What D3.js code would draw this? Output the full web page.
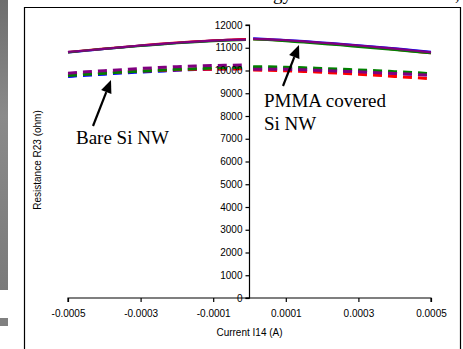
<!DOCTYPE html>
<html>
<head>
<meta charset="utf-8">
<script src="https://cdn.jsdelivr.net/npm/d3@7"></script>
<style>
  body { margin: 0; background: #fff; }
  svg { display: block; }
</style>
</head>
<body>
<svg id="chart"></svg>
<script>
// current values (A) for the two sweeps
var xLeft = [-0.0005, -0.00045, -0.0004, -0.00035, -0.0003, -0.00025, -0.0002, -0.00015, -0.0001, -0.00005, -0.00001];
var xRight = [0.00001, 0.00005, 0.0001, 0.00015, 0.0002, 0.00025, 0.0003, 0.00035, 0.0004, 0.00045, 0.0005];

// PMMA covered (solid)
var solidLeft = {
  blue:   [10790, 10870, 10950, 11020, 11090, 11150, 11210, 11260, 11310, 11350, 11380],
  red:    [10810, 10890, 10960, 11030, 11100, 11170, 11230, 11280, 11320, 11360, 11380],
  green:  [10800, 10880, 10950, 11020, 11080, 11140, 11200, 11250, 11290, 11320, 11340],
  purple: [10820, 10880, 10950, 11030, 11100, 11160, 11220, 11270, 11310, 11340, 11360]
};
var solidRight = {
  blue:   [11410, 11380, 11340, 11290, 11230, 11170, 11110, 11040, 10970, 10900, 10820],
  red:    [11380, 11360, 11310, 11260, 11200, 11140, 11070, 11000, 10920, 10840, 10760],
  green:  [11370, 11340, 11290, 11230, 11170, 11110, 11040, 10970, 10900, 10830, 10760],
  purple: [11390, 11370, 11330, 11280, 11220, 11160, 11100, 11030, 10960, 10880, 10800]
};

// Bare Si NW (dashed)
var dashLeft = {
  blue:   [9740, 9790, 9840, 9890, 9930, 9970, 10010, 10040, 10060, 10080, 10090],
  red:    [9800, 9850, 9890, 9930, 9970, 10000, 10030, 10050, 10060, 10070, 10080],
  green:  [9780, 9830, 9880, 9930, 9970, 10010, 10050, 10080, 10110, 10130, 10140],
  purple: [9880, 9940, 9990, 10040, 10090, 10130, 10170, 10200, 10220, 10230, 10240]
};
var dashRight = {
  blue:   [10120, 10110, 10090, 10060, 10030, 10000, 9960, 9920, 9880, 9840, 9800],
  red:    [10020, 10010, 9990, 9960, 9920, 9880, 9840, 9790, 9740, 9690, 9640],
  green:  [10170, 10160, 10140, 10120, 10090, 10060, 10020, 9990, 9950, 9910, 9860],
  purple: [10060, 10060, 10050, 10030, 10000, 9970, 9940, 9900, 9870, 9830, 9790]
};

var colorNames = ["blue", "red", "green", "purple"];
var colors = { blue: "#0000ff", red: "#ff0000", green: "#008000", purple: "#800080" };

var xTicks = [-0.0005, -0.0003, -0.0001, 0.0001, 0.0003, 0.0005];
var yTicks = [0, 1000, 2000, 3000, 4000, 5000, 6000, 7000, 8000, 9000, 10000, 11000, 12000];

var width = 463, height = 349;
var svg = d3.select("#chart").attr("width", width).attr("height", height);

// grey strip at the left (edge of a neighbouring figure)
var grad = svg.append("defs").append("linearGradient").attr("id", "strip")
  .attr("x1", 0).attr("y1", 0).attr("x2", 0).attr("y2", 1);
grad.append("stop").attr("offset", "0%").attr("stop-color", "#6e6e6e");
grad.append("stop").attr("offset", "40%").attr("stop-color", "#8a8a8a");
grad.append("stop").attr("offset", "100%").attr("stop-color", "#7a7a7a");
svg.append("rect").attr("x", 0).attr("y", 0).attr("width", 8).attr("height", 290).attr("fill", "url(#strip)");
svg.append("rect").attr("x", 0).attr("y", 318).attr("width", 8).attr("height", 8).attr("fill", "#808080");

// title of the figure, cut off by the top edge (only descenders show)
svg.append("text").attr("x", 292).attr("y", 0).attr("text-anchor", "end")
  .attr("font-family", "Liberation Serif").attr("font-size", 19).text("Resistance vs. energy");
svg.append("text").attr("x", 455).attr("y", 0)
  .attr("font-family", "Liberation Serif").attr("font-size", 19).text(",");

// frame
svg.append("path").attr("d", "M24.5,349V7.5H460.5V349")
  .attr("fill", "none").attr("stroke", "#000").attr("stroke-width", 1.2);

var x = d3.scaleLinear().domain([-0.0005, 0.0005]).range([68, 431]);
var y = d3.scaleLinear().domain([0, 12000]).range([298, 25]);

var line = d3.line()
  .x(function(d) { return x(d[0]); })
  .y(function(d) { return y(d[1]); })
  .curve(d3.curveMonotoneX);

var drawSet = function(xs, set, dashed) {
  colorNames.forEach(function(c) {
    var pts = xs.map(function(v, i) { return [v, set[c][i]]; });
    svg.append("path")
      .attr("d", line(pts))
      .attr("fill", "none")
      .attr("stroke", colors[c])
      .attr("stroke-width", dashed ? 3 : 2.2)
      .attr("stroke-dasharray", dashed ? "9,6" : null);
  });
};

drawSet(xLeft, dashLeft, true);
drawSet(xRight, dashRight, true);
drawSet(xLeft, solidLeft, false);
drawSet(xRight, solidRight, false);

// axes
var xAxis = d3.axisBottom(x).tickValues(xTicks).tickSize(4).tickPadding(8)
  .tickFormat(function(d) { return d3.format(".4f")(d).replace("\u2212", "-"); });
var gx = svg.append("g").attr("transform", "translate(0," + y(0) + ")").call(xAxis);
gx.select(".domain").attr("d", "M" + x(-0.0005) + ",4V0H" + x(0.0005) + "V4");

var yAxis = d3.axisLeft(y).tickValues(yTicks).tickSize(4).tickPadding(3)
  .tickFormat(d3.format("d"));
var gy = svg.append("g").attr("transform", "translate(" + x(0) + ",0)").call(yAxis);
gy.select(".domain").attr("d", "M-4," + y(12000) + "H0V" + y(0) + "H-4");

svg.selectAll(".tick text").attr("font-family", "Liberation Sans, Arial").attr("font-size", 10).attr("fill", "#000");
svg.selectAll(".domain, .tick line").attr("stroke", "#000").attr("stroke-width", 1.2);

svg.append("text").attr("x", x(0)).attr("y", 336).attr("text-anchor", "middle")
  .attr("font-family", "Liberation Sans, Arial").attr("font-size", 10).text("Current I14 (A)");
svg.append("text").attr("transform", "translate(41,160) rotate(-90)").attr("text-anchor", "middle")
  .attr("font-family", "Liberation Sans, Arial").attr("font-size", 10).text("Resistance R23 (ohm)");

// annotations
var arrow = function(x1, y1, x2, y2) {
  var ang = Math.atan2(y2 - y1, x2 - x1);
  var len = 13, half = 5.5;
  var bx = x2 - len * Math.cos(ang), by = y2 - len * Math.sin(ang);
  svg.append("line").attr("x1", x1).attr("y1", y1).attr("x2", bx).attr("y2", by)
    .attr("stroke", "#000").attr("stroke-width", 2.2);
  svg.append("path")
    .attr("d", "M" + x2 + "," + y2 +
      "L" + (bx + half * Math.sin(ang)) + "," + (by - half * Math.cos(ang)) +
      "L" + (bx - half * Math.sin(ang)) + "," + (by + half * Math.cos(ang)) + "Z")
    .attr("fill", "#000");
};
arrow(93, 126, 111, 80);
arrow(283, 86, 299, 45);

svg.append("text").attr("x", 76).attr("y", 144)
  .attr("font-family", "Liberation Serif").attr("font-size", 19).text("Bare Si NW");
svg.append("text").attr("x", 264).attr("y", 107)
  .attr("font-family", "Liberation Serif").attr("font-size", 19).text("PMMA covered");
svg.append("text").attr("x", 264).attr("y", 130)
  .attr("font-family", "Liberation Serif").attr("font-size", 19).text("Si NW");
</script>
</body>
</html>
